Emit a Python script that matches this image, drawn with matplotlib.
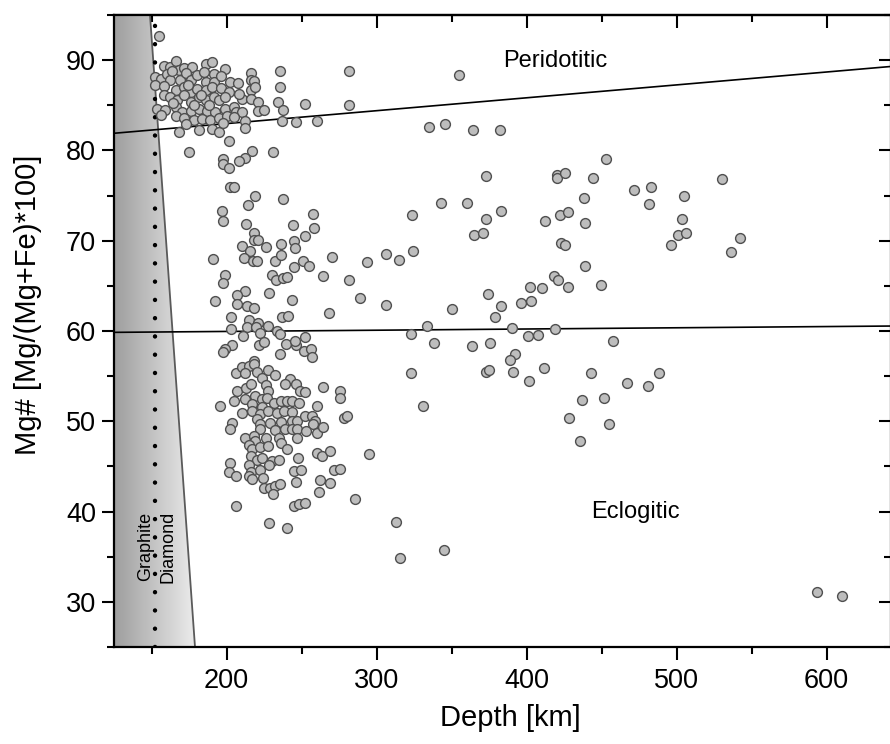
import numpy as np
import matplotlib
matplotlib.use('Agg')
import matplotlib.pyplot as plt
from matplotlib.colors import LinearSegmentedColormap
from matplotlib.patches import Polygon
from matplotlib.ticker import MultipleLocator

plt.rcParams['font.family'] = ['Liberation Sans', 'DejaVu Sans']

# inclusions: (depth km, Mg#)
peridotitic_pts = [
    (155.3, 92.7),
    (158.2, 89.3), (162.2, 89.2), (166.6, 89.9), (168.2, 88.9), (171.5, 89.1), (177.1, 89.2),
    (186.0, 89.6), (190.0, 89.8), (191.5, 88.5), (199.3, 89.0),
    (152.6, 88.1), (156.0, 87.9), (160.4, 88.5), (162.6, 87.8), (168.9, 87.8), (173.3, 88.6),
    (176.0, 87.8), (180.4, 88.3), (184.9, 88.7), (186.0, 87.6), (191.5, 87.6), (202.6, 87.6),
    (207.5, 87.5), (216.0, 88.6), (216.0, 87.8), (218.6, 87.7),
    (152.6, 87.2), (158.2, 87.1), (166.0, 86.7), (171.5, 87.0), (176.0, 86.5), (180.4, 86.8),
    (186.0, 86.7), (190.4, 87.0), (196.0, 86.9), (201.5, 86.5), (216.0, 86.7), (219.3, 87.0),
    (158.2, 86.1), (162.6, 85.9), (167.1, 85.6), (171.5, 86.1), (176.0, 85.4), (181.5, 85.9),
    (186.0, 85.6), (191.5, 85.9), (194.9, 85.6), (199.3, 85.9), (210.0, 85.7), (216.0, 85.7),
    (220.9, 85.4), (234.4, 85.4),
    (153.7, 84.6), (159.3, 84.5), (166.0, 84.8), (170.4, 84.3), (176.0, 84.4), (181.5, 84.6),
    (187.1, 84.4), (192.6, 84.3), (199.3, 84.6), (204.9, 84.8), (206.0, 84.3), (210.4, 84.3),
    (220.9, 84.4), (224.9, 84.5), (237.7, 84.5),
    (156.0, 83.9), (166.0, 83.8), (171.5, 83.6), (178.2, 83.4), (183.7, 83.5), (189.3, 83.4),
    (194.9, 83.6), (200.4, 83.8), (204.9, 83.7), (212.6, 83.3), (237.1, 83.3), (246.0, 83.2),
    (260.4, 83.3),
    (168.2, 82.0), (181.5, 82.3), (190.4, 82.4), (194.9, 82.0), (212.6, 82.5),
    (163.5, 88.8), (174.5, 87.3), (183.0, 86.1), (188.5, 85.0), (196.5, 88.2), (178.5, 85.0),
    (164.0, 85.2), (197.8, 83.0), (173.0, 82.9), (208.0, 86.3),
    (235.5, 88.8), (281.5, 88.8), (235.5, 87.0), (281.5, 85.0), (252.2, 85.1), (355.2, 88.3),
]

shallow_mid_pts = [
    (201.5, 81.0), (174.9, 79.8), (217.1, 79.9), (231.1, 79.8), (212.6, 79.2), (208.2, 78.8),
    (197.7, 79.1), (197.7, 78.5), (201.5, 78.0), (202.6, 75.9), (205.3, 76.0),
    (218.9, 75.0), (214.6, 74.0), (237.7, 74.6), (196.9, 73.3), (197.7, 72.2), (257.7, 73.0),
    (213.3, 71.8), (244.2, 71.7), (258.6, 71.4), (218.2, 70.8), (218.6, 70.1), (220.9, 70.1),
    (252.6, 70.5), (236.6, 69.6), (245.3, 70.0), (245.5, 69.2), (226.0, 69.3), (210.4, 69.4),
    (215.5, 68.9), (211.5, 68.1), (190.9, 68.0), (217.7, 67.7), (220.0, 67.7), (232.6, 67.7),
    (236.6, 68.4), (251.3, 67.8), (255.3, 67.2), (244.9, 67.1), (270.4, 68.2), (293.8, 67.6),
    (264.2, 66.1), (281.5, 65.6), (230.4, 66.2), (233.1, 65.6), (237.7, 65.9), (240.4, 66.0),
    (199.3, 66.2), (197.7, 65.3), (212.6, 64.4), (207.1, 64.0), (228.2, 64.2), (192.4, 63.3),
    (207.1, 63.0), (213.5, 62.8), (218.6, 62.6), (243.5, 63.4), (289.3, 63.6), (268.6, 62.0),
    (203.1, 61.6), (214.9, 61.2), (221.1, 60.9), (237.1, 61.5), (241.1, 61.7), (202.9, 60.2),
    (213.7, 60.4), (219.7, 60.4), (227.7, 60.6), (233.7, 60.0), (235.7, 59.7), (210.9, 59.4),
    (222.6, 59.8), (252.2, 59.3), (203.7, 58.4), (199.3, 58.0), (197.7, 57.7), (221.5, 58.5),
    (224.9, 58.8), (239.5, 58.6), (246.0, 58.4), (245.5, 58.9), (251.7, 57.8), (256.4, 58.0),
    (257.1, 57.1), (235.5, 57.5), (218.2, 56.7),
]

shallow_low_pts = [
    (206.0, 55.3), (210.4, 56.0), (214.9, 56.1), (218.6, 56.3), (212.6, 55.3), (220.0, 55.5),
    (223.7, 54.8), (227.7, 55.7), (232.2, 55.1), (242.6, 54.7), (239.3, 54.1), (246.0, 54.1),
    (249.3, 53.3), (252.6, 53.2), (264.4, 53.8), (275.5, 53.3), (275.5, 52.6), (207.1, 53.3),
    (213.3, 53.7), (216.0, 54.1), (226.6, 54.0), (227.5, 53.3), (204.9, 52.2), (212.2, 52.5),
    (219.3, 52.8), (223.7, 52.5), (227.1, 52.6), (231.5, 52.0), (236.0, 52.3), (240.4, 52.2),
    (243.7, 52.2), (248.2, 52.0), (195.5, 51.7), (217.1, 51.9), (223.7, 51.6), (210.0, 50.9),
    (217.1, 51.1), (222.6, 50.8), (227.5, 51.1), (233.7, 50.9), (238.2, 51.1), (243.7, 51.0),
    (260.4, 51.7), (278.2, 50.4), (280.0, 50.6),
    (220.4, 50.2), (222.6, 49.7), (229.3, 49.8), (236.6, 49.9), (243.7, 50.0), (247.1, 50.0),
    (252.6, 50.6), (257.1, 50.6), (258.9, 50.0), (257.7, 49.7), (203.7, 49.8), (202.6, 49.1),
    (222.6, 49.1), (232.6, 49.0), (238.9, 49.1), (243.7, 49.2), (247.1, 49.1), (253.3, 48.9),
    (260.4, 48.7), (264.4, 49.4), (212.6, 48.1), (218.2, 48.4), (219.3, 47.8), (226.6, 48.2),
    (234.9, 48.1), (236.0, 47.6), (240.4, 46.9), (214.9, 47.4), (217.1, 46.9), (222.6, 47.2),
    (227.5, 47.3), (247.1, 48.1), (247.5, 45.9), (260.0, 46.5), (263.8, 46.1), (269.3, 46.7),
    (295.3, 46.4), (216.0, 46.1), (220.4, 45.7), (223.7, 45.9), (230.4, 45.6), (234.9, 45.7),
    (202.6, 45.4), (201.5, 44.4), (206.0, 43.9), (214.9, 45.2), (216.0, 44.4), (222.6, 44.6),
    (214.9, 43.9), (217.1, 43.6), (228.2, 45.2), (224.4, 43.7), (244.9, 44.5), (249.7, 44.6),
    (271.5, 44.6), (275.5, 44.7), (262.6, 43.5), (268.9, 43.2), (246.0, 43.3), (261.5, 42.2),
    (224.9, 42.6), (228.9, 42.6), (232.6, 42.8), (231.1, 41.9), (235.5, 43.0), (285.4, 41.4),
    (206.6, 40.6), (244.9, 40.6), (248.2, 40.8), (252.0, 41.0), (228.2, 38.7), (240.4, 38.2),
]

deep_pts = [
    (335.3, 82.6), (345.6, 82.9), (364.4, 82.3), (382.2, 82.3), (453.1, 79.0), (372.7, 77.2),
    (420.0, 77.3), (420.4, 77.0), (425.6, 77.5), (444.2, 76.9), (438.0, 74.7), (343.3, 74.2),
    (360.4, 74.2), (382.9, 73.3), (323.8, 72.8), (372.9, 72.4), (412.0, 72.2), (422.0, 72.9),
    (427.6, 73.2), (438.7, 72.0), (364.9, 70.6), (371.1, 70.9), (422.7, 69.8), (425.6, 69.5),
    (324.4, 68.9), (306.4, 68.5), (315.3, 67.9), (438.9, 67.2), (418.2, 66.1), (421.3, 65.6),
    (402.0, 64.9), (410.2, 64.8), (427.8, 64.9), (449.8, 65.1), (306.4, 62.9), (374.4, 64.1),
    (383.3, 62.8), (396.0, 63.1), (402.9, 63.3), (350.2, 62.4), (378.7, 61.5), (333.8, 60.5),
    (323.1, 59.7), (390.2, 60.3), (419.3, 60.2), (401.1, 59.4), (407.6, 59.6), (338.0, 58.7),
    (363.6, 58.3), (375.8, 58.7), (457.8, 58.9), (392.0, 57.4), (388.7, 56.8), (322.7, 55.3),
    (373.1, 55.5), (374.9, 55.7), (390.9, 55.5), (411.8, 55.9), (401.6, 54.5), (442.7, 55.4),
    (437.1, 52.4), (451.6, 52.6),
    (471.5, 75.6), (483.1, 75.9), (481.5, 74.1), (505.3, 74.9), (530.0, 76.8), (503.7, 72.4),
    (501.1, 70.6), (506.6, 70.9), (496.2, 69.5), (542.0, 70.3), (536.2, 68.7), (488.6, 55.4),
    (467.3, 54.2), (481.1, 53.9),
    (331.2, 51.7), (428.4, 50.4), (454.9, 49.7), (435.9, 47.8), (312.9, 38.8), (315.5, 34.9),
    (345.3, 35.7), (593.8, 31.1), (610.3, 30.7),
]

# field boundaries
perid_line_depth = [125, 643]
perid_line_mg = [81.9, 89.3]
eclog_line_depth = [125, 643]
eclog_line_mg = [59.85, 60.55]
gd_boundary_depth = [149, 179]
gd_boundary_mg = [95, 25]
gd_dotted_depth = 152.2

x_min, x_max = 125, 643
y_min, y_max = 25, 95

fig = plt.figure(figsize=(8.9, 7.44), dpi=100)
ax = fig.add_axes([114 / 890, 97 / 744, 777 / 890, 632 / 744])
ax.set_xlim(x_min, x_max)
ax.set_ylim(y_min, y_max)

# graphite stability wedge with a grey gradient
grey = LinearSegmentedColormap.from_list('wedge', ['#9e9e9e', '#efefef'])
grad = np.linspace(0, 1, 256).reshape(1, -1)
img = ax.imshow(grad, cmap=grey, aspect='auto', extent=(x_min, 181, y_min, y_max),
                origin='lower', zorder=1)
wedge = Polygon([(x_min, y_max), (gd_boundary_depth[0], gd_boundary_mg[0]),
                 (gd_boundary_depth[1], gd_boundary_mg[1]), (x_min, y_min)],
                closed=True, transform=ax.transData, facecolor='none', edgecolor='none')
ax.add_patch(wedge)
img.set_clip_path(wedge)
ax.plot(gd_boundary_depth, gd_boundary_mg, color='#5a5a5a', lw=1.3, zorder=2)
ax.plot([gd_dotted_depth, gd_dotted_depth], [y_min, y_max], color='black', lw=3.2,
        ls=(0, (0.01, 4.1)), dash_capstyle='round', zorder=2)

ax.plot(perid_line_depth, perid_line_mg, color='black', lw=1.2, zorder=2)
ax.plot(eclog_line_depth, eclog_line_mg, color='black', lw=1.2, zorder=2)

for group in [peridotitic_pts, shallow_mid_pts, shallow_low_pts, deep_pts]:
    arr = np.array(group)
    ax.scatter(arr[:, 0], arr[:, 1], s=50, facecolor='#bdbdbd', edgecolor='#4f4f4f',
               linewidths=1.0, zorder=3)

ax.text(419, 89.9, 'Peridotitic', fontsize=17, ha='center', va='center')
ax.text(472.5, 40.0, 'Eclogitic', fontsize=17, ha='center', va='center')
ax.text(146, 36.1, 'Graphite', fontsize=13, rotation=90, ha='center', va='center', zorder=4)
ax.text(160.9, 36.1, 'Diamond', fontsize=13, rotation=90, ha='center', va='center', zorder=4)

# axes styling (ticks out on bottom/left, in on top/right)
ax.xaxis.set_major_locator(MultipleLocator(100))
ax.xaxis.set_minor_locator(MultipleLocator(50))
ax.yaxis.set_major_locator(MultipleLocator(10))
ax.yaxis.set_minor_locator(MultipleLocator(5))
ax.set_xticks([200, 300, 400, 500, 600])
ax.tick_params(which='major', direction='out', length=9, width=1.5, labelsize=19.5, pad=4)
ax.tick_params(axis='x', which='major', pad=6)
ax.tick_params(which='minor', direction='out', length=5, width=1.5)
for s in ax.spines.values():
    s.set_linewidth(1.6)

top = ax.secondary_xaxis('top')
top.xaxis.set_major_locator(MultipleLocator(100))
top.xaxis.set_minor_locator(MultipleLocator(50))
top.tick_params(which='major', direction='in', length=9, width=1.5, labeltop=False)
top.tick_params(which='minor', direction='in', length=5, width=1.5)
top.spines['top'].set_linewidth(1.6)

right = ax.secondary_yaxis('right')
right.yaxis.set_major_locator(MultipleLocator(10))
right.yaxis.set_minor_locator(MultipleLocator(5))
right.tick_params(which='major', direction='in', length=9, width=1.5, labelright=False)
right.tick_params(which='minor', direction='in', length=5, width=1.5)

fig.text(510 / 890, 1 - 718 / 744, 'Depth [km]', fontsize=21, ha='center', va='center')
fig.text(28 / 890, 1 - 305 / 744, 'Mg# [Mg/(Mg+Fe)*100]', fontsize=21, rotation=90,
         ha='center', va='center')

fig.savefig('out.png', dpi=100)
